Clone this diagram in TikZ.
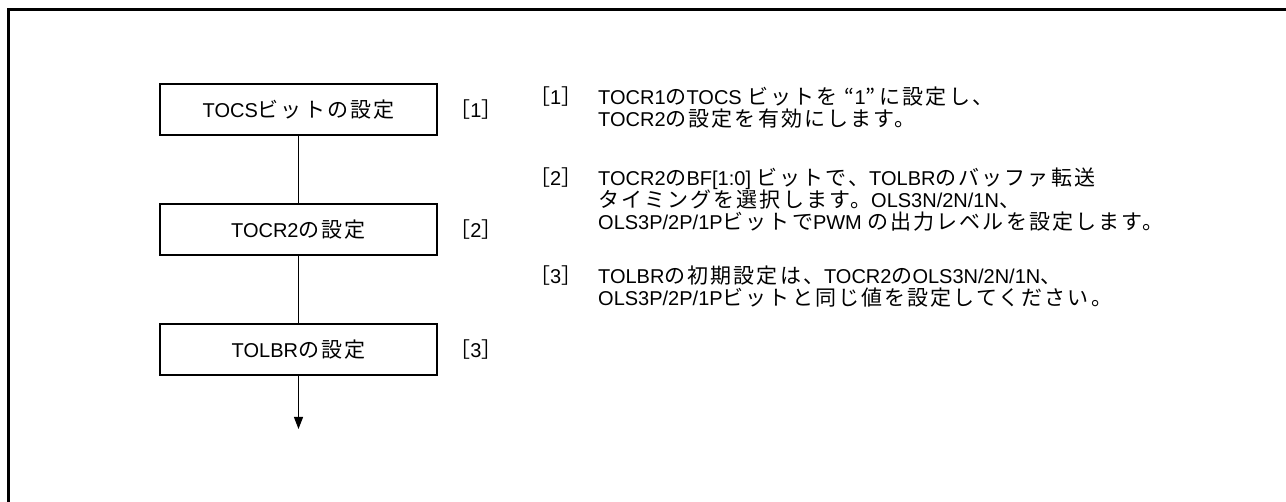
\documentclass[tikz,border=0pt]{standalone}
\usepackage{fontspec}
\setmainfont{Liberation Sans}
\newfontfamily\jpfont[Scale=1.05,LetterSpace=10]{Noto Sans CJK JP}
\newfontfamily\jpbr[Scale=1.05]{Noto Sans CJK JP}
\newcommand\jpt[1]{{\jpfont #1}}
\newcommand\brk[1]{{\jpbr ［}#1{\jpbr ］}}
\usetikzlibrary{arrows.meta}
\tikzset{
  stepbox/.style={draw, line width=1.5pt, minimum width=277pt, minimum height=51pt, inner sep=0pt, font=\fontsize{20}{22}\selectfont},
  tag/.style={inner sep=0pt, font=\fontsize{20}{22}\selectfont},
  txt/.style={inner sep=0pt, anchor=base west, font=\fontsize{20}{22}\selectfont},
  conn/.style={line width=1pt},
  frame/.style={line width=3pt}
}
\begin{document}
\begin{tikzpicture}[x=1pt,y=-1pt]
\useasboundingbox (0,0) rectangle (1286,502);
\coordinate (fa) at (8.5,502);
\coordinate (fb) at (8.5,9.5);
\coordinate (fc) at (1286,9.5);
\draw[frame] (fa) -- (fb) -- (fc);
\node[stepbox] (b1) at (298.5,109.5) {TOCS\jpt{ビットの設定}};
\node[stepbox] (b2) at (298.5,229.5) {TOCR2\jpt{の設定}};
\node[stepbox] (b3) at (298.5,349.5) {TOLBR\jpt{の設定}};
\coordinate (end) at (298.5,429);
\draw[conn] (b1) -- (b2);
\draw[conn] (b2) -- (b3);
\draw[conn,-{Triangle[length=12pt,width=9pt]}] (b3) -- (end);
\node[tag] (t1) at (476,109.5) {\brk{1}};
\node[tag] (t2) at (476,229.5) {\brk{2}};
\node[tag] (t3) at (476,349.5) {\brk{3}};
\node[txt] (n1) at (529,105) {\brk{1}};
\node[txt] (l11) at (598,105) {TOCR1\jpt{の}TOCS \jpt{ビットを\kern7pt“}1\jpt{”\kern4pt に設定し、}};
\node[txt] (l12) at (598,127) {TOCR2\jpt{の設定を有効にします。}};
\node[txt] (n2) at (529,186) {\brk{2}};
\node[txt] (l21) at (598,186) {TOCR2\jpt{の}BF[1:0] \jpt{ビットで、}TOLBR\jpt{のバッファ転送}};
\node[txt] (l22) at (598,208) {\jpt{タイミングを選択します。}OLS3N/2N/1N\jpt{、}};
\node[txt] (l23) at (598,230) {OLS3P/2P/1P\jpt{ビットで}PWM \jpt{の出力レベルを設定します。}};
\node[txt] (n3) at (529,284) {\brk{3}};
\node[txt] (l31) at (598,284) {TOLBR\jpt{の初期設定は、}TOCR2\jpt{の}OLS3N/2N/1N\jpt{、}};
\node[txt] (l32) at (598,306) {OLS3P/2P/1P\jpt{ビットと同じ値を設定してください。}};
\end{tikzpicture}
\end{document}
